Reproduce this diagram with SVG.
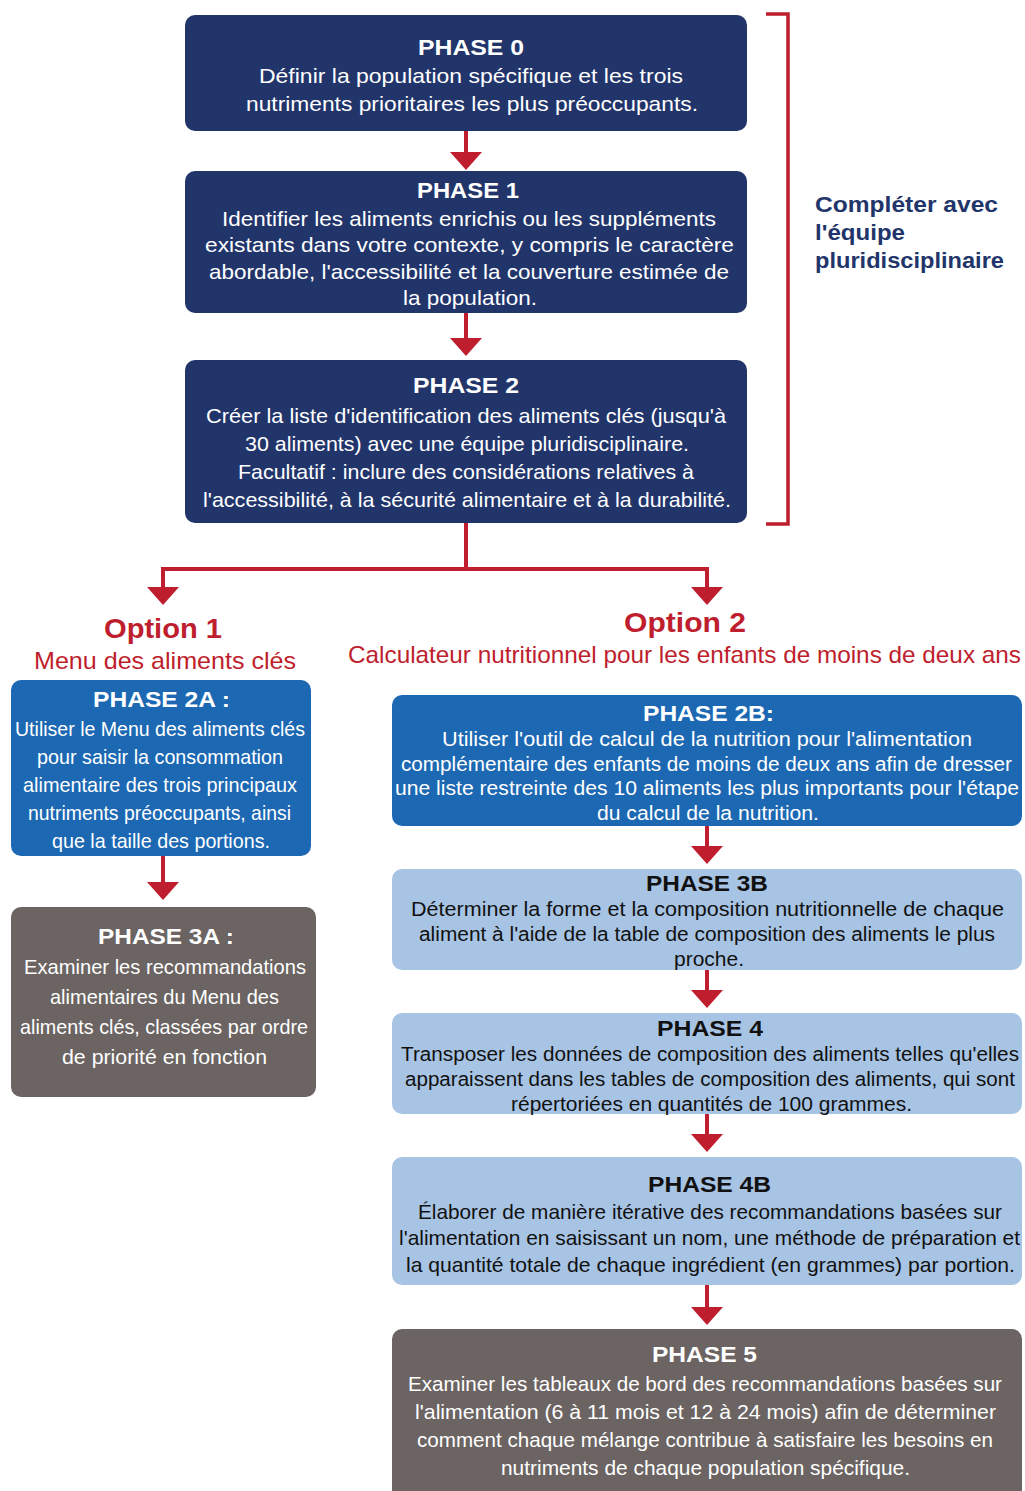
<svg xmlns="http://www.w3.org/2000/svg" width="1025" height="1491" viewBox="0 0 1025 1491">
<style>
text{font-family:"Liberation Sans",Arial,sans-serif;text-anchor:middle}
.h{font-size:22px;font-weight:bold;fill:#fff}
.hk{font-size:22px;font-weight:bold;fill:#111}
.b{font-size:21px;fill:#fff}
.s{font-size:20px;fill:#fff}
.sk{font-size:20px;fill:#111}
.navy{fill:#22356B}
.blue{fill:#1C68B3}
.light{fill:#A8C4E4}
.gray{fill:#6B6462}
.ln{stroke:#BE1E2D;stroke-width:4;fill:none}
.opt{font-size:28px;font-weight:bold;fill:#BE1E2D}
.opts{font-size:24px;fill:#BE1E2D}
.side{font-size:22px;font-weight:bold;fill:#22356B;text-anchor:start}
</style>
<defs>
<marker id="ah" markerUnits="userSpaceOnUse" markerWidth="18" markerHeight="32" viewBox="0 0 18 32" refX="6" refY="16" orient="auto">
<path d="M0,0 L18,16 L0,32 z" fill="#BE1E2D"/>
</marker>
</defs>

<g id="connectors">
<path class="ln" d="M466,131 V158" marker-end="url(#ah)"/>
<path class="ln" d="M466,313 V344" marker-end="url(#ah)"/>
<path class="ln" d="M466,523 V569 M163,569 H707"/>
<path class="ln" d="M163,567 V593" marker-end="url(#ah)"/>
<path class="ln" d="M707,567 V593" marker-end="url(#ah)"/>
<path class="ln" d="M163,856 V888" marker-end="url(#ah)"/>
<path class="ln" d="M707,826 V852" marker-end="url(#ah)"/>
<path class="ln" d="M707,970 V996" marker-end="url(#ah)"/>
<path class="ln" d="M707,1114 V1140" marker-end="url(#ah)"/>
<path class="ln" d="M707,1285 V1313" marker-end="url(#ah)"/>
<path d="M766,14 H788 V524 H766" fill="none" stroke="#BE1E2D" stroke-width="3.5"/>
</g>

<g id="phase0">
<rect class="navy" x="185" y="15" width="562" height="116" rx="10"/>
<text class="h" x="471" y="55" textLength="106" lengthAdjust="spacingAndGlyphs">PHASE 0</text>
<text class="b" x="471" y="83" textLength="424" lengthAdjust="spacingAndGlyphs">Définir la population spécifique et les trois</text>
<text class="b" x="472" y="111" textLength="452" lengthAdjust="spacingAndGlyphs">nutriments prioritaires les plus préoccupants.</text>
</g>

<g id="phase1">
<rect class="navy" x="185" y="171" width="562" height="142" rx="10"/>
<text class="h" x="468" y="198" textLength="102" lengthAdjust="spacingAndGlyphs">PHASE 1</text>
<text class="b" x="469" y="226" textLength="494" lengthAdjust="spacingAndGlyphs">Identifier les aliments enrichis ou les suppléments</text>
<text class="b" x="469.5" y="252" textLength="529" lengthAdjust="spacingAndGlyphs">existants dans votre contexte, y compris le caractère</text>
<text class="b" x="469" y="279" textLength="520" lengthAdjust="spacingAndGlyphs">abordable, l'accessibilité et la couverture estimée de</text>
<text class="b" x="470" y="305" textLength="134" lengthAdjust="spacingAndGlyphs">la population.</text>
</g>

<g id="phase2">
<rect class="navy" x="185" y="360" width="562" height="163" rx="10"/>
<text class="h" x="466" y="393" textLength="106" lengthAdjust="spacingAndGlyphs">PHASE 2</text>
<text class="b" x="466" y="423" textLength="520" lengthAdjust="spacingAndGlyphs">Créer la liste d'identification des aliments clés (jusqu'à</text>
<text class="b" x="467" y="451" textLength="444" lengthAdjust="spacingAndGlyphs">30 aliments) avec une équipe pluridisciplinaire.</text>
<text class="b" x="466" y="479" textLength="456" lengthAdjust="spacingAndGlyphs">Facultatif : inclure des considérations relatives à</text>
<text class="b" x="467" y="507" textLength="528" lengthAdjust="spacingAndGlyphs">l'accessibilité, à la sécurité alimentaire et à la durabilité.</text>
</g>

<g id="team-label">
<text class="side" x="815" y="212" textLength="183" lengthAdjust="spacingAndGlyphs">Compléter avec</text>
<text class="side" x="815" y="240" textLength="90" lengthAdjust="spacingAndGlyphs">l'équipe</text>
<text class="side" x="815" y="268" textLength="189" lengthAdjust="spacingAndGlyphs">pluridisciplinaire</text>
</g>

<g id="option1">
<text class="opt" x="163" y="638" textLength="118" lengthAdjust="spacingAndGlyphs">Option 1</text>
<text class="opts" x="165" y="669" textLength="262" lengthAdjust="spacingAndGlyphs">Menu des aliments clés</text>
</g>

<g id="option2">
<text class="opt" x="685" y="632" textLength="122" lengthAdjust="spacingAndGlyphs">Option 2</text>
<text class="opts" x="684.5" y="663" textLength="673" lengthAdjust="spacingAndGlyphs">Calculateur nutritionnel pour les enfants de moins de deux ans</text>
</g>

<g id="phase2a">
<rect class="blue" x="11" y="680" width="300" height="176" rx="10"/>
<text class="h" x="161.5" y="707" textLength="137" lengthAdjust="spacingAndGlyphs">PHASE 2A :</text>
<text class="b" x="160" y="736" textLength="290" lengthAdjust="spacingAndGlyphs">Utiliser le Menu des aliments clés</text>
<text class="b" x="160" y="764" textLength="246" lengthAdjust="spacingAndGlyphs">pour saisir la consommation</text>
<text class="b" x="160" y="792" textLength="274" lengthAdjust="spacingAndGlyphs">alimentaire des trois principaux</text>
<text class="b" x="159.5" y="820" textLength="263" lengthAdjust="spacingAndGlyphs">nutriments préoccupants, ainsi</text>
<text class="b" x="161" y="848" textLength="218" lengthAdjust="spacingAndGlyphs">que la taille des portions.</text>
</g>

<g id="phase3a">
<rect class="gray" x="11" y="907" width="305" height="190" rx="10"/>
<text class="h" x="166" y="944" textLength="136" lengthAdjust="spacingAndGlyphs">PHASE 3A :</text>
<text class="b" x="165" y="974" textLength="282" lengthAdjust="spacingAndGlyphs">Examiner les recommandations</text>
<text class="b" x="164.5" y="1004" textLength="229" lengthAdjust="spacingAndGlyphs">alimentaires du Menu des</text>
<text class="b" x="164" y="1034" textLength="288" lengthAdjust="spacingAndGlyphs">aliments clés, classées par ordre</text>
<text class="b" x="164.5" y="1064" textLength="205" lengthAdjust="spacingAndGlyphs">de priorité en fonction</text>
</g>

<g id="phase2b">
<rect class="blue" x="392" y="695" width="630" height="131" rx="10"/>
<text class="h" x="708.5" y="721" textLength="131" lengthAdjust="spacingAndGlyphs">PHASE 2B:</text>
<text class="s" x="707" y="746" textLength="530" lengthAdjust="spacingAndGlyphs">Utiliser l'outil de calcul de la nutrition pour l'alimentation</text>
<text class="s" x="706.5" y="771" textLength="611" lengthAdjust="spacingAndGlyphs">complémentaire des enfants de moins de deux ans afin de dresser</text>
<text class="s" x="707" y="795" textLength="624" lengthAdjust="spacingAndGlyphs">une liste restreinte des 10 aliments les plus importants pour l'étape</text>
<text class="s" x="708" y="820" textLength="222" lengthAdjust="spacingAndGlyphs">du calcul de la nutrition.</text>
</g>

<g id="phase3b">
<rect class="light" x="392" y="869" width="630" height="101" rx="10"/>
<text class="hk" x="707" y="891" textLength="122" lengthAdjust="spacingAndGlyphs">PHASE 3B</text>
<text class="sk" x="707.5" y="916" textLength="593" lengthAdjust="spacingAndGlyphs">Déterminer la forme et la composition nutritionnelle de chaque</text>
<text class="sk" x="707" y="941" textLength="576" lengthAdjust="spacingAndGlyphs">aliment à l'aide de la table de composition des aliments le plus</text>
<text class="sk" x="709" y="966" textLength="70" lengthAdjust="spacingAndGlyphs">proche.</text>
</g>

<g id="phase4">
<rect class="light" x="392" y="1013" width="630" height="101" rx="10"/>
<text class="hk" x="710" y="1036" textLength="106" lengthAdjust="spacingAndGlyphs">PHASE 4</text>
<text class="sk" x="710" y="1061" textLength="618" lengthAdjust="spacingAndGlyphs">Transposer les données de composition des aliments telles qu'elles</text>
<text class="sk" x="710" y="1086" textLength="610" lengthAdjust="spacingAndGlyphs">apparaissent dans les tables de composition des aliments, qui sont</text>
<text class="sk" x="711.5" y="1111" textLength="401" lengthAdjust="spacingAndGlyphs">répertoriées en quantités de 100 grammes.</text>
</g>

<g id="phase4b">
<rect class="light" x="392" y="1157" width="630" height="128" rx="10"/>
<text class="hk" x="709.5" y="1192" textLength="123" lengthAdjust="spacingAndGlyphs">PHASE 4B</text>
<text class="sk" x="710" y="1219" textLength="584" lengthAdjust="spacingAndGlyphs" style="font-size:21px">Élaborer de manière itérative des recommandations basées sur</text>
<text class="sk" x="709.5" y="1245" textLength="621" lengthAdjust="spacingAndGlyphs" style="font-size:21px">l'alimentation en saisissant un nom, une méthode de préparation et</text>
<text class="sk" x="710.5" y="1272" textLength="609" lengthAdjust="spacingAndGlyphs" style="font-size:21px">la quantité totale de chaque ingrédient (en grammes) par portion.</text>
</g>

<g id="phase5">
<rect class="gray" x="392" y="1329" width="630" height="185" rx="10"/>
<text class="h" x="704.5" y="1362" textLength="105" lengthAdjust="spacingAndGlyphs">PHASE 5</text>
<text class="b" x="705" y="1391" textLength="594" lengthAdjust="spacingAndGlyphs">Examiner les tableaux de bord des recommandations basées sur</text>
<text class="b" x="705.5" y="1419" textLength="581" lengthAdjust="spacingAndGlyphs">l'alimentation (6 à 11 mois et 12 à 24 mois) afin de déterminer</text>
<text class="b" x="705" y="1447" textLength="576" lengthAdjust="spacingAndGlyphs">comment chaque mélange contribue à satisfaire les besoins en</text>
<text class="b" x="705.5" y="1475" textLength="409" lengthAdjust="spacingAndGlyphs">nutriments de chaque population spécifique.</text>
</g>
</svg>
